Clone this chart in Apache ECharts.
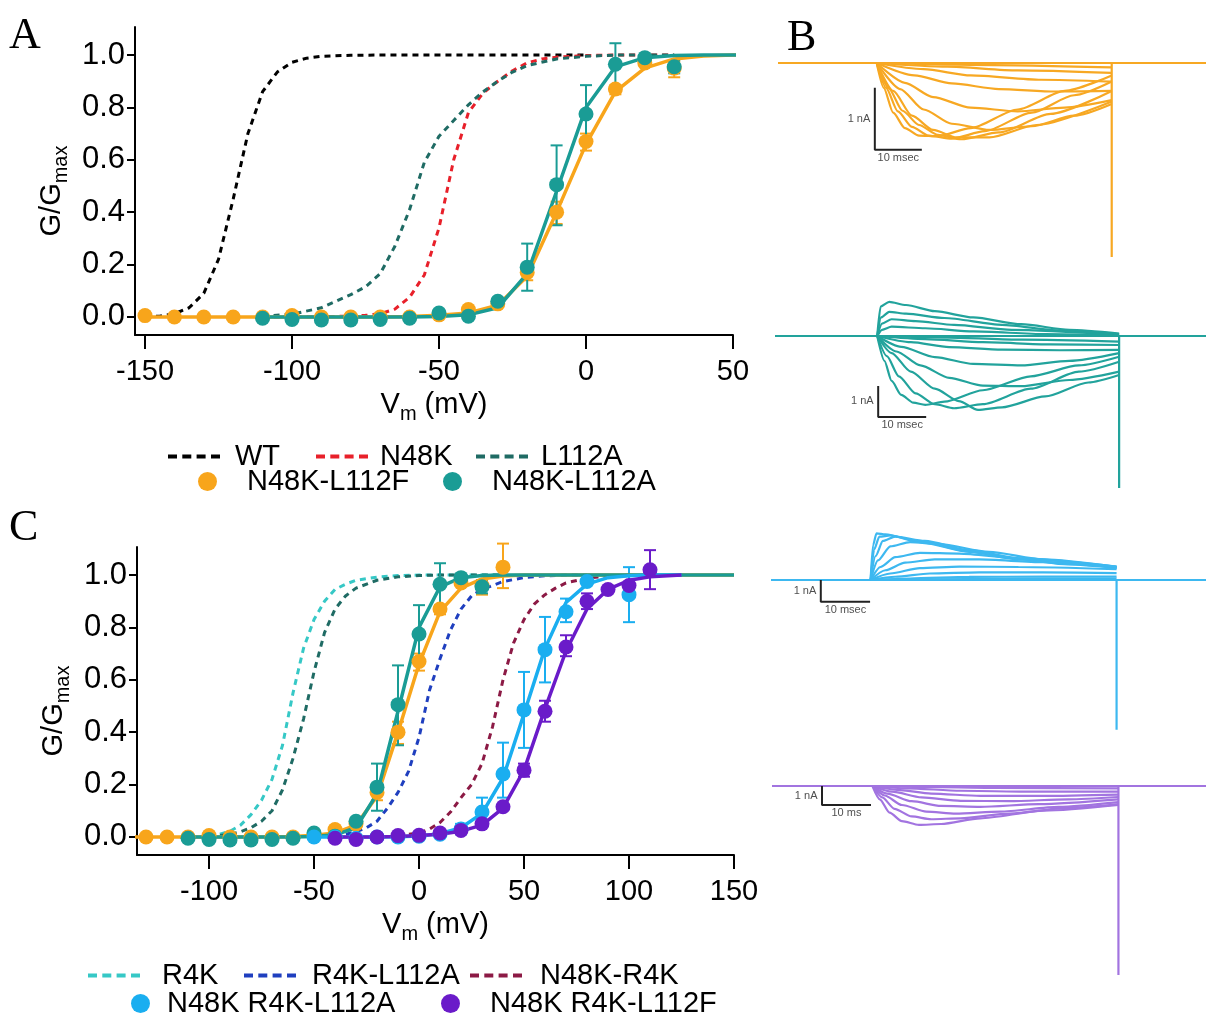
<!DOCTYPE html>
<html><head><meta charset="utf-8">
<script src="https://cdn.jsdelivr.net/npm/echarts@6/dist/echarts.min.js"></script>
<style>html,body{margin:0;padding:0;background:#fff;}#c{width:1206px;height:1019px;}</style>
</head><body><div id="c"></div>
<script>
// ================= DATA =================
// shared tick labels
const tickY = [0, 0.2, 0.4, 0.6, 0.8, 1.0];
const tickXA = [-150, -100, -50, 0, 50];
const tickXC = [-100, -50, 0, 50, 100, 150];

// ---- Panel A: dashed reference curves (Vm mV, G/Gmax) ----
const wtA = [[-150,0],[-145,0.003],[-140,0.012],[-135,0.035],[-130,0.09],[-125,0.22],[-120,0.45],[-115,0.7],[-110,0.86],[-105,0.935],[-100,0.972],[-95,0.988],[-90,0.995],[-80,0.999],[-70,1],[-60,1],[-50,1],[-40,1],[-30,1],[-20,1],[-10,1],[0,1]];
const n48kA = [[-110,0],[-100,0],[-90,0.001],[-80,0.003],[-75,0.006],[-70,0.012],[-65,0.03],[-60,0.075],[-55,0.16],[-50,0.34],[-45,0.6],[-40,0.78],[-35,0.855],[-30,0.9],[-25,0.94],[-20,0.97],[-15,0.985],[-10,0.992],[0,0.998],[10,1],[20,1],[30,1]];
const l112aA = [[-110,0.003],[-100,0.01],[-90,0.035],[-85,0.06],[-80,0.085],[-75,0.115],[-70,0.165],[-65,0.27],[-60,0.41],[-55,0.59],[-50,0.69],[-45,0.75],[-40,0.81],[-35,0.86],[-30,0.9],[-25,0.935],[-20,0.96],[-10,0.985],[0,0.995],[10,1],[20,1],[30,1]];

// ---- fitted curves (shared by A and C) ----
const orFit = [[-150,0],[-140,0],[-130,0],[-120,0],[-110,0],[-100,0],[-90,0],[-80,0],[-70,0],[-60,0.002],[-50,0.006],[-40,0.015],[-30,0.045],[-20,0.155],[-10,0.4],[0,0.66],[10,0.86],[20,0.95],[30,0.985],[40,0.996],[50,1],[70,1],[100,1],[150,1]];
const tlFit = [[-110,0],[-100,0],[-90,0],[-80,0],[-70,0],[-60,0],[-50,0.002],[-40,0.008],[-30,0.035],[-20,0.165],[-10,0.48],[0,0.8],[10,0.955],[20,0.99],[30,0.998],[40,1],[50,1],[70,1],[100,1],[150,1]];

// ---- Panel A points and error bars [Vm, low, high] ----
const orPtsA = [[-150,0.005],[-140,0],[-130,0],[-120,0],[-110,0],[-100,0.005],[-90,0],[-80,0],[-70,0],[-60,0],[-50,0.008],[-40,0.028],[-30,0.05],[-20,0.17],[-10,0.4],[0,0.67],[10,0.87],[20,0.97],[30,0.95]];
const tlPtsA = [[-110,-0.005],[-100,-0.01],[-90,-0.012],[-80,-0.012],[-70,-0.01],[-60,-0.005],[-50,0.015],[-40,0.003],[-30,0.06],[-20,0.19],[-10,0.505],[0,0.775],[10,0.965],[20,0.99],[30,0.955]];
const orErrA = [[-20,0.14,0.2],[-10,0.355,0.44],[0,0.635,0.7],[10,0.85,0.885],[30,0.915,0.975]];
const tlErrA = [[-20,0.1,0.28],[-10,0.35,0.655],[0,0.66,0.885],[10,0.87,1.045],[30,0.93,0.98]];

// ---- Panel C dashed curves ----
const r4kC = [[-100,0.004],[-95,0.01],[-90,0.022],[-85,0.045],[-80,0.085],[-75,0.14],[-70,0.22],[-65,0.35],[-60,0.55],[-55,0.72],[-50,0.83],[-45,0.9],[-40,0.945],[-35,0.965],[-30,0.98],[-20,0.992],[-10,0.998],[0,1],[10,1],[20,1],[30,1],[40,1]];
const darkC = [[-100,0.002],[-95,0.005],[-90,0.01],[-85,0.02],[-80,0.035],[-75,0.06],[-70,0.1],[-65,0.18],[-60,0.3],[-55,0.45],[-50,0.63],[-45,0.78],[-40,0.87],[-35,0.92],[-30,0.95],[-20,0.98],[-10,0.993],[0,0.998],[10,1],[20,1],[30,1],[40,1]];
const r4kL112aC = [[-40,0.005],[-35,0.01],[-30,0.02],[-25,0.035],[-20,0.06],[-15,0.11],[-10,0.17],[-5,0.25],[0,0.38],[5,0.56],[10,0.68],[15,0.79],[20,0.87],[25,0.92],[30,0.945],[40,0.975],[50,0.99],[60,0.997],[70,1],[80,1]];
const n48kR4kC = [[-10,0.005],[-5,0.01],[0,0.015],[5,0.03],[10,0.055],[15,0.095],[20,0.15],[25,0.2],[30,0.28],[35,0.42],[40,0.6],[45,0.74],[50,0.83],[55,0.89],[60,0.925],[65,0.95],[70,0.97],[80,0.988],[90,0.996],[100,1]];

// ---- Panel C points, fits and error bars ----
const orPtsC = [[-130,0],[-120,0],[-110,0],[-100,0.005],[-90,0],[-80,0],[-70,0],[-60,0],[-50,0.008],[-40,0.028],[-30,0.05],[-20,0.17],[-10,0.4],[0,0.67],[10,0.87],[20,0.97],[30,0.96],[40,1.03]];
const tlPtsC = tlPtsA;
const orErrC = [[-20,0.14,0.2],[-10,0.355,0.44],[0,0.635,0.7],[10,0.85,0.885],[30,0.925,0.98],[40,0.95,1.12]];
const tlErrC = tlErrA;
const lbPts = [[-50,0],[-40,0],[-30,-0.005],[-20,0],[-10,0],[0,0.003],[10,0.01],[20,0.03],[30,0.095],[40,0.24],[50,0.485],[60,0.715],[70,0.86],[80,0.975],[100,0.925]];
const ppPts = [[-40,-0.005],[-30,-0.01],[-20,0],[-10,0.005],[0,0.006],[10,0.015],[20,0.025],[30,0.05],[40,0.115],[50,0.255],[60,0.48],[70,0.725],[80,0.9],[90,0.945],[100,0.96],[110,1.02]];
const lbFit = [[-50,0],[-40,0],[-30,0],[-20,0],[-10,0.001],[0,0.004],[10,0.012],[20,0.035],[30,0.09],[40,0.225],[50,0.47],[60,0.72],[70,0.895],[80,0.965],[90,0.99],[100,0.997],[110,1],[125,1]];
const ppFit = [[-40,0],[-30,0],[-20,0],[-10,0.002],[0,0.005],[10,0.01],[20,0.022],[30,0.045],[40,0.11],[50,0.255],[60,0.49],[70,0.71],[80,0.87],[90,0.945],[100,0.98],[110,0.993],[125,1]];
const lbErr = [[20,0.01,0.05],[30,0.04,0.15],[40,0.15,0.36],[50,0.34,0.63],[60,0.59,0.84],[70,0.82,0.91],[100,0.82,1.03]];
const ppErr = [[50,0.23,0.28],[60,0.44,0.52],[70,0.69,0.77],[80,0.87,0.93],[110,0.946,1.095]];

// ---- Panel B current traces (time ms, current nA) ----
const b1Base = [[-21,0],[0,0],[50,0],[50,-3.13],[50,0],[70.06,0]];
const b1Traces = [
 [[0,0],[1.5,-0.4],[3.5,-0.8],[6,-1.05],[9,-1.17],[13,-1.18],[20,-1.05],[30,-0.75],[40,-0.45],[50,-0.2]],
 [[0,0],[2,-0.4],[4.5,-0.78],[7.5,-1.03],[11,-1.17],[16,-1.22],[23,-1.1],[33,-0.8],[42,-0.52],[50,-0.3]],
 [[0,0],[2.5,-0.4],[5.5,-0.77],[9,-1.0],[13,-1.16],[18,-1.23],[26,-1.12],[37,-0.82],[50,-0.45]],
 [[0,0],[3.5,-0.45],[7.5,-0.85],[12,-1.08],[17,-1.2],[24,-1.2],[34,-1.0],[50,-0.62]],
 [[0,0],[5,-0.42],[10,-0.75],[16,-0.98],[24,-1.08],[33,-1.02],[42,-0.85],[50,-0.66]],
 [[0,0],[6,-0.32],[12,-0.55],[20,-0.72],[30,-0.78],[40,-0.72],[50,-0.6]],
 [[0,0],[8,-0.2],[16,-0.33],[26,-0.42],[38,-0.46],[50,-0.45]],
 [[0,0],[10,-0.1],[20,-0.2],[35,-0.27],[50,-0.3]],
 [[0,0],[15,-0.06],[30,-0.12],[50,-0.16]],
 [[0,0],[20,-0.03],[50,-0.07]]
];
const b2Base = [[-21.3,0],[0,0],[50.4,0],[50.4,-4.9],[50.4,0],[68.5,0]];
const b2Traces = [
 [[0,0],[0.7,0.95],[2.5,1.1],[6,1.0],[12,0.8],[20,0.6],[30,0.38],[40,0.2],[50.4,0.08]],
 [[0,0],[0.8,0.6],[2.5,0.78],[6,0.72],[14,0.58],[26,0.36],[38,0.18],[50.4,0.06]],
 [[0,0],[1,0.4],[3,0.54],[8,0.48],[16,0.36],[28,0.2],[50.4,0.04]],
 [[0,0],[1,0.2],[3,0.3],[10,0.25],[20,0.15],[35,0.06],[50.4,0.02]],
 [[0,0],[1.5,-0.8],[3,-1.45],[5,-1.9],[7.5,-2.15],[10,-2.22],[14,-2.12],[22,-1.75],[32,-1.3],[42,-0.95],[50.4,-0.67]],
 [[0,0],[2,-0.65],[4.5,-1.3],[8,-1.85],[12,-2.2],[16,-2.33],[22,-2.2],[32,-1.7],[42,-1.15],[50.4,-0.83]],
 [[0,0],[3,-0.55],[7,-1.15],[12,-1.7],[17,-2.1],[21,-2.38],[26,-2.3],[35,-1.95],[44,-1.5],[50.4,-1.26]],
 [[0,0],[4,-0.5],[9,-0.95],[15,-1.35],[22,-1.6],[30,-1.62],[40,-1.42],[50.4,-1.15]],
 [[0,0],[5,-0.35],[12,-0.68],[20,-0.9],[30,-0.95],[40,-0.8],[50.4,-0.55]],
 [[0,0],[7,-0.2],[15,-0.36],[26,-0.44],[38,-0.46],[50.4,-0.45]],
 [[0,0],[10,-0.1],[22,-0.2],[36,-0.27],[50.4,-0.29]],
 [[0,0],[15,-0.05],[30,-0.12],[50.4,-0.18]]
];
const b3Base = [[-20.2,0],[0,0],[49.9,0],[49.9,-6.9],[49.9,0],[68.04,0]];
const b3Traces = [
 [[0,0],[0.5,1.6],[1.2,2.15],[3,2.1],[10,1.75],[20,1.3],[30,0.95],[40,0.72],[49.9,0.55]],
 [[0,0],[0.7,1.4],[1.8,2.0],[4,2.05],[10,1.78],[20,1.32],[30,0.98],[40,0.74],[49.9,0.57]],
 [[0,0],[1,1.1],[2.5,1.8],[5,2.0],[11,1.8],[20,1.38],[30,1.0],[49.9,0.58]],
 [[0,0],[1.5,0.9],[4,1.55],[8,1.75],[14,1.65],[24,1.3],[35,0.95],[49.9,0.6]],
 [[0,0],[2,0.6],[5,1.05],[10,1.25],[18,1.22],[30,1.0],[49.9,0.62]],
 [[0,0],[3,0.45],[7,0.8],[13,0.95],[22,0.95],[35,0.82],[49.9,0.62]],
 [[0,0],[4,0.3],[10,0.55],[18,0.62],[30,0.6],[49.9,0.5]],
 [[0,0],[5,0.15],[12,0.3],[22,0.35],[35,0.35],[49.9,0.32]],
 [[0,0],[8,0.07],[20,0.14],[35,0.16],[49.9,0.16]],
 [[0,0],[10,0.03],[30,0.06],[49.9,0.06]]
];
const b4Base = [[-20.5,0],[0,0],[50.2,0],[50.2,-9.95],[50.2,0],[68.07,0]];
const b4Traces = [
 [[0,0],[1.5,-0.7],[3.5,-1.4],[6,-1.85],[9.5,-2.05],[14,-2.0],[22,-1.7],[35,-1.3],[50.2,-1.0]],
 [[0,0],[2,-0.6],[4.5,-1.2],[8,-1.6],[12,-1.75],[18,-1.7],[28,-1.45],[40,-1.15],[50.2,-0.95]],
 [[0,0],[2.5,-0.5],[6,-1.0],[11,-1.35],[17,-1.45],[26,-1.35],[38,-1.1],[50.2,-0.85]],
 [[0,0],[3,-0.4],[8,-0.8],[14,-1.05],[22,-1.1],[34,-0.95],[50.2,-0.7]],
 [[0,0],[4,-0.3],[10,-0.6],[18,-0.78],[28,-0.8],[40,-0.7],[50.2,-0.58]],
 [[0,0],[5,-0.2],[12,-0.4],[22,-0.52],[35,-0.52],[50.2,-0.45]],
 [[0,0],[7,-0.12],[18,-0.25],[32,-0.3],[50.2,-0.3]],
 [[0,0],[10,-0.05],[25,-0.1],[50.2,-0.13]]
];
// scale bars: vertical 1 nA, horizontal 10 ms
const b1Bar = [[-0.4,-0.4],[-0.4,-1.4],[9.6,-1.4]];
const b2Bar = [[0.2,-1.61],[0.2,-2.61],[10.2,-2.61]];
const b3Bar = [[-10.1,0],[-10.1,-1],[-0.1,-1]];
const b4Bar = [[-10.3,0],[-10.3,-1],[-0.3,-1]];
const barLabels = [['1 nA','10 msec'],['1 nA','10 msec'],['1 nA','10 msec'],['1 nA','10 ms']];

// ================= CHART =================
const FONT = '"Liberation Sans", Arial, sans-serif';
const C = {
  orange:'#F8A51B', teal:'#1A9C95', darkTeal:'#1F6B64', red:'#E8202A', black:'#000000',
  cyan:'#36C8C6', blue:'#1F3FBF', maroon:'#8C1A45', lblue:'#1AAEF0', purple:'#6A1BC9',
  b1:'#F7A823', b2:'#22A39C', b3:'#3DB8F0', b4:'#A274E0'
};
const DASH_ICON = 'path://M0,0h9v4h-9z M14.3,0h9v4h-9z M28.6,0h9v4h-9z M43,0h9v4h-9z';

function nameRich(pad){
  return { color:'#000', padding:pad, rich:{
    n:{fontSize:29, fontFamily:FONT, color:'#000', lineHeight:34, verticalAlign:'top'},
    s:{fontSize:20, fontFamily:FONT, color:'#000', lineHeight:17, verticalAlign:'bottom'}
  }};
}
function xAxisMain(gi, min, max, ticks){
  return { gridIndex:gi, type:'value', min, max,
    axisLine:{show:true, onZero:false, lineStyle:{color:'#000', width:2}},
    axisTick:{show:true, inside:false, length:14, customValues:ticks, lineStyle:{color:'#000', width:2}},
    axisLabel:{customValues:ticks, fontSize:29, fontFamily:FONT, color:'#000', margin:22},
    splitLine:{show:false},
    name:'{n|V}{s|m}{n| (mV)}', nameLocation:'middle', nameGap:55, nameTextStyle:nameRich([0,0,0,0])
  };
}
function yAxisMain(gi){
  return { gridIndex:gi, type:'value', min:-0.069, max:1.107,
    axisLine:{show:true, onZero:false, lineStyle:{color:'#000', width:2}},
    axisTick:{show:true, inside:false, length:8, customValues:tickY, lineStyle:{color:'#000', width:2}},
    axisLabel:{customValues:tickY, fontSize:31, fontFamily:FONT, color:'#000', margin:10, formatter:v=>v.toFixed(1)},
    splitLine:{show:false},
    name:'{n|G/G}{s|max}', nameLocation:'middle', nameRotate:90, nameGap:64, nameTextStyle:nameRich([0,20,0,0])
  };
}
function hiddenAxis(gi, min, max){ return {gridIndex:gi, type:'value', min, max, show:false, splitLine:{show:false}}; }

function dashed(name, data, color, gi){
  return {type:'line', name, data, xAxisIndex:gi, yAxisIndex:gi, symbol:'none', showSymbol:false, z:2,
    lineStyle:{color, width:3, type:[6,5]}, itemStyle:{color}, silent:true};
}
function solid(name, data, color, gi){
  return {type:'line', name, data, xAxisIndex:gi, yAxisIndex:gi, symbol:'none', showSymbol:false, z:3,
    lineStyle:{color, width:3.5}, itemStyle:{color}, silent:true};
}
function pts(name, data, color, gi){
  return {type:'scatter', name, data, xAxisIndex:gi, yAxisIndex:gi, symbol:'circle', symbolSize:15, z:3,
    itemStyle:{color, opacity:1}, silent:true};
}
function errs(data, color, gi){
  return {type:'custom', data, xAxisIndex:gi, yAxisIndex:gi, z:3, silent:true, encode:{x:0, y:[1,2]},
    renderItem:(params, api)=>{
      const x=api.value(0), p1=api.coord([x, api.value(1)]), p2=api.coord([x, api.value(2)]), w=6;
      const st={stroke:color, lineWidth:2};
      return {type:'group', children:[
        {type:'line', shape:{x1:p1[0],y1:p1[1],x2:p2[0],y2:p2[1]}, style:st},
        {type:'line', shape:{x1:p1[0]-w,y1:p1[1],x2:p1[0]+w,y2:p1[1]}, style:st},
        {type:'line', shape:{x1:p2[0]-w,y1:p2[1],x2:p2[0]+w,y2:p2[1]}, style:st}
      ]};
    }};
}
function traceSeries(traces, base, color, gi){
  const out = [{type:'line', data:base, xAxisIndex:gi, yAxisIndex:gi, symbol:'none', z:2, silent:true,
    lineStyle:{color, width:2.2}}];
  traces.forEach(t=>out.push({type:'line', data:t, xAxisIndex:gi, yAxisIndex:gi, symbol:'none', z:2, silent:true,
    smooth:0.25, smoothMonotone:'x', lineStyle:{color, width:2.2}}));
  return out;
}
function scaleBar(bar, labels, gi){
  const vMid = [bar[0][0], (bar[0][1]+bar[1][1])/2];
  const hMid = [(bar[1][0]+bar[2][0])/2, bar[1][1]];
  const lbl = {fontSize:11, fontFamily:FONT, color:'#222'};
  return [
    {type:'line', data:bar, xAxisIndex:gi, yAxisIndex:gi, symbol:'none', z:5, silent:true, lineStyle:{color:'#222', width:2}},
    {type:'scatter', data:[vMid], xAxisIndex:gi, yAxisIndex:gi, symbolSize:1, z:5, silent:true, itemStyle:{color:'rgba(0,0,0,0)'},
      label:{show:true, position:'left', distance:4, formatter:labels[0], ...lbl}},
    {type:'scatter', data:[hMid], xAxisIndex:gi, yAxisIndex:gi, symbolSize:1, z:5, silent:true, itemStyle:{color:'rgba(0,0,0,0)'},
      label:{show:true, position:'bottom', distance:2, formatter:labels[1], ...lbl}}
  ];
}

const series = [
  // Panel A
  dashed('WT', wtA, C.black, 0),
  dashed('N48K', n48kA, C.red, 0),
  dashed('L112A', l112aA, C.darkTeal, 0),
  solid('N48K-L112F fit', orFit, C.orange, 0),
  solid('N48K-L112A fit', tlFit, C.teal, 0),
  errs(orErrA, C.orange, 0),
  pts('N48K-L112F', orPtsA, C.orange, 0),
  errs(tlErrA, C.teal, 0),
  pts('N48K-L112A', tlPtsA, C.teal, 0),
  // Panel C
  dashed('R4K', r4kC, C.cyan, 1),
  dashed('L112A (C)', darkC, C.darkTeal, 1),
  dashed('R4K-L112A', r4kL112aC, C.blue, 1),
  dashed('N48K-R4K', n48kR4kC, C.maroon, 1),
  solid('N48K-L112F fit C', orFit, C.orange, 1),
  solid('N48K-L112A fit C', tlFit, C.teal, 1),
  solid('N48K R4K-L112A fit', lbFit, C.lblue, 1),
  solid('N48K R4K-L112F fit', ppFit, C.purple, 1),
  errs(orErrC, C.orange, 1),
  pts('N48K-L112F', orPtsC, C.orange, 1),
  errs(tlErrC, C.teal, 1),
  pts('N48K-L112A', tlPtsC, C.teal, 1),
  errs(lbErr, C.lblue, 1),
  pts('N48K R4K-L112A', lbPts, C.lblue, 1),
  errs(ppErr, C.purple, 1),
  pts('N48K R4K-L112F', ppPts, C.purple, 1),
  // Panel B
  ...traceSeries(b1Traces, b1Base, C.b1, 2),
  ...traceSeries(b2Traces, b2Base, C.b2, 3),
  ...traceSeries(b3Traces, b3Base, C.b3, 4),
  ...traceSeries(b4Traces, b4Base, C.b4, 5),
  ...scaleBar(b1Bar, barLabels[0], 2),
  ...scaleBar(b2Bar, barLabels[1], 3),
  ...scaleBar(b3Bar, barLabels[2], 4),
  ...scaleBar(b4Bar, barLabels[3], 5)
];

function leg(name, left, top, isLine, gapText){
  return {data:[{name, icon: isLine ? DASH_ICON : 'circle'}], left, top, padding:0, itemGap:0, selectedMode:false,
    itemWidth: isLine?52:19, itemHeight: isLine?4:19,
    textStyle:{fontSize:29, fontFamily:FONT, color:'#000', padding:[0,0,0,gapText]}};
}

const option = {
  animation:false,
  backgroundColor:'#ffffff',
  grid:[
    {left:135, top:27, width:598, height:308},
    {left:137, top:547, width:597, height:308},
    {left:778, top:38.2, width:428, height:223.2},
    {left:775, top:289.5, width:431, height:207.7},
    {left:771, top:525.75, width:435, height:210.5},
    {left:772, top:770.8, width:434, height:209}
  ],
  xAxis:[
    xAxisMain(0, -153.4, 50, tickXA),
    xAxisMain(1, -134.3, 150, tickXC),
    hiddenAxis(2, -21, 70.06),
    hiddenAxis(3, -21.3, 68.5),
    hiddenAxis(4, -20.2, 68.04),
    hiddenAxis(5, -20.5, 68.07)
  ],
  yAxis:[
    yAxisMain(0), yAxisMain(1),
    hiddenAxis(2, -3.2, 0.4),
    hiddenAxis(3, -5.2, 1.5),
    hiddenAxis(4, -7.2, 2.5),
    hiddenAxis(5, -10.2, 0.8)
  ],
  legend:[
    leg('WT', 168, 442, true, 10),
    leg('N48K', 316, 442, true, 7),
    leg('L112A', 476, 442, true, 8),
    leg('N48K-L112F', 198, 467, false, 25),
    leg('N48K-L112A', 443, 467, false, 25),
    leg('R4K', 88, 961, true, 17),
    leg('R4K-L112A', 244, 961, true, 11),
    leg('N48K-R4K', 470, 961, true, 13),
    leg('N48K R4K-L112A', 131, 989, false, 12),
    leg('N48K R4K-L112F', 441, 989, false, 25)
  ],
  graphic:[
    {type:'text', left:9, top:14, style:{text:'A', font:'44px "Liberation Serif", serif', fill:'#000'}},
    {type:'text', left:787, top:16, style:{text:'B', font:'44px "Liberation Serif", serif', fill:'#000'}},
    {type:'text', left:9, top:506, style:{text:'C', font:'44px "Liberation Serif", serif', fill:'#000'}}
  ],
  series
};
const chart = echarts.init(document.getElementById('c'), null, {renderer:'canvas'});
chart.setOption(option);
</script>
</body></html>
